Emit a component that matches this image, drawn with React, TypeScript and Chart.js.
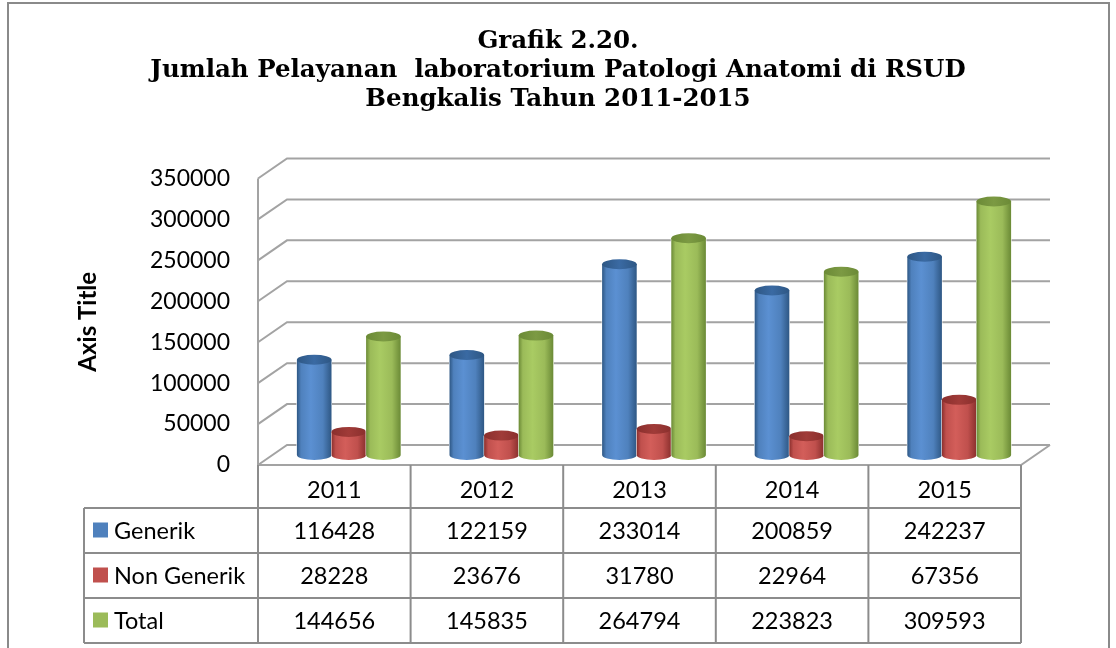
import React, { useEffect, useRef } from "react";
import { Chart, registerables } from "chart.js";

Chart.register(...registerables);

// ---------- data ----------
const years = ["2011", "2012", "2013", "2014", "2015"];
const seriesNames = ["Generik", "Non Generik", "Total"];
const generik = [116428, 122159, 233014, 200859, 242237];
const nonGenerik = [28228, 23676, 31780, 22964, 67356];
const total = [144656, 145835, 264794, 223823, 309593];
const yMax = 350000;
const yStep = 50000;
const titleLines = [
  "Grafik 2.20.",
  "Jumlah Pelayanan  laboratorium Patologi Anatomi di RSUD",
  "Bengkalis Tahun 2011-2015",
];
const axisTitle = "Axis Title";

// ---------- styles ----------
const W = 1116;
const H = 648;
const DX = 14.5; // half depth (x)
const DY = 10; // half depth (y)
const gridColor = "#a3a3a3";
const tableColor = "#8c8c8c";
const font = "Lato";
const bodyColors = ["#4F81BD", "#C0504D", "#9BBB59"];
const darkColors = ["#2E5784", "#8A2F2D", "#6B8A36"];
const lightColors = ["#5B90D2", "#D35E5A", "#A9CB63"];
const topColors = ["#3A6AA3", "#A03B38", "#7C9A43"];

const wallsPlugin = {
  id: "walls3d",
  beforeDatasetsDraw(chart: any) {
    const { ctx, chartArea, scales } = chart;
    const { left, right } = chartArea;
    const y = scales.y;
    ctx.save();
    ctx.strokeStyle = gridColor;
    ctx.lineWidth = 2;
    y.ticks.forEach((t: any) => {
      const ym = y.getPixelForValue(t.value);
      ctx.beginPath();
      ctx.moveTo(left - DX, ym + DY);
      ctx.lineTo(left + DX, ym - DY);
      ctx.lineTo(right + DX, ym - DY);
      ctx.stroke();
    });
    const y0 = y.getPixelForValue(0);
    const yT = y.getPixelForValue(yMax);
    ctx.beginPath();
    ctx.moveTo(left - DX, y0 + DY);
    ctx.lineTo(right - DX, y0 + DY);
    ctx.lineTo(right + DX, y0 - DY);
    ctx.stroke();
    ctx.beginPath();
    ctx.moveTo(left - DX, yT + DY);
    ctx.lineTo(left - DX, y0 + DY);
    ctx.stroke();
    ctx.restore();
  },
};

const cylinderPlugin = {
  id: "cylinders",
  afterDatasetsDraw(chart: any) {
    const { ctx } = chart;
    ctx.save();
    chart.data.datasets.forEach((_ds: any, di: number) => {
      const meta = chart.getDatasetMeta(di);
      meta.data.forEach((bar: any) => {
        const { x, y, base, width } = bar.getProps(["x", "y", "base", "width"], true);
        const l = x - width / 2;
        const r = x + width / 2;
        const rx = width / 2;
        const ry = 5;
        const g = ctx.createLinearGradient(l, 0, r, 0);
        g.addColorStop(0, darkColors[di]);
        g.addColorStop(0.12, bodyColors[di]);
        g.addColorStop(0.4, lightColors[di]);
        g.addColorStop(0.75, bodyColors[di]);
        g.addColorStop(1, darkColors[di]);
        ctx.fillStyle = "#ffffff";
        ctx.fillRect(l - 0.5, y, width + 1, base - y + 0.5);
        ctx.fillStyle = g;
        ctx.beginPath();
        ctx.moveTo(l, y);
        ctx.lineTo(l, base);
        ctx.ellipse(x, base, rx, ry, 0, Math.PI, 0, true);
        ctx.lineTo(r, y);
        ctx.closePath();
        ctx.fill();
        const tg = ctx.createLinearGradient(l, 0, r, 0);
        tg.addColorStop(0, darkColors[di]);
        tg.addColorStop(0.5, topColors[di]);
        tg.addColorStop(1, darkColors[di]);
        ctx.fillStyle = tg;
        ctx.beginPath();
        ctx.ellipse(x, y, rx, ry, 0, 0, Math.PI * 2);
        ctx.fill();
      });
    });
    ctx.restore();
  },
};

const tablePlugin = {
  id: "dataTable",
  afterDraw(chart: any) {
    const { ctx, chartArea, scales } = chart;
    const { left, right } = chartArea;
    const x = scales.x;
    const y = scales.y;
    const values = [generik, nonGenerik, total];
    const top = y.getPixelForValue(0) + DY;
    const headerBottom = top + 43;
    const rowH = 45;
    const tLeft = left - DX;
    const tRight = right - DX;
    const legLeft = 84;
    const colW = (right - left) / years.length;
    const bottom = headerBottom + rowH * values.length;
    ctx.save();
    ctx.strokeStyle = tableColor;
    ctx.lineWidth = 2;
    for (let r = 0; r <= values.length; r++) {
      const yy = headerBottom + r * rowH;
      ctx.beginPath();
      ctx.moveTo(legLeft, yy);
      ctx.lineTo(tRight, yy);
      ctx.stroke();
    }
    for (let c = 0; c <= years.length; c++) {
      const xx = tLeft + c * colW;
      ctx.beginPath();
      ctx.moveTo(xx, top);
      ctx.lineTo(xx, bottom);
      ctx.stroke();
    }
    ctx.beginPath();
    ctx.moveTo(legLeft, headerBottom);
    ctx.lineTo(legLeft, bottom);
    ctx.stroke();

    ctx.fillStyle = "#000";
    ctx.font = `23.5px ${font}`;
    ctx.textAlign = "center";
    ctx.textBaseline = "middle";
    years.forEach((yr, i) => {
      const cx = x.getPixelForValue(i) - DX;
      ctx.fillText(yr, cx, (top + headerBottom) / 2 + 4);
      values.forEach((vals, r) => {
        const cy = headerBottom + r * rowH + rowH / 2 + 1;
        ctx.fillText(String(vals[i]), cx, cy);
      });
    });
    ctx.textAlign = "left";
    seriesNames.forEach((name, r) => {
      const cy = headerBottom + r * rowH + rowH / 2;
      ctx.fillStyle = bodyColors[r];
      ctx.fillRect(93, cy - 8, 15, 15);
      ctx.fillStyle = "#000";
      ctx.fillText(name, 114, cy + 1);
    });
    ctx.restore();
  },
};

const textPlugin = {
  id: "texts",
  afterDraw(chart: any) {
    const { ctx, scales } = chart;
    const y = scales.y;
    ctx.save();
    ctx.strokeStyle = "#8a8a8a";
    ctx.lineWidth = 2;
    ctx.strokeRect(8, 3, 1101, 670);
    ctx.fillStyle = "#000";
    ctx.font = "bold 24.5px 'DejaVu Serif'";
    ctx.textAlign = "center";
    ctx.textBaseline = "middle";
    titleLines.forEach((line, i) => {
      ctx.fillText(line, 558, 42 + i * 29);
    });
    const cy = (y.getPixelForValue(0) + y.getPixelForValue(yMax)) / 2 + DY;
    ctx.translate(88, cy);
    ctx.rotate(-Math.PI / 2);
    ctx.font = `bold 24px ${font}`;
    ctx.fillText(axisTitle, 0, 0);
    ctx.restore();
  },
};

export default function App() {
  const ref = useRef<HTMLCanvasElement>(null);
  useEffect(() => {
    if (!ref.current) return;
    const chart = new Chart(ref.current, {
      type: "bar",
      data: {
        labels: years,
        datasets: [
          { label: seriesNames[0], data: generik, backgroundColor: bodyColors[0] },
          { label: seriesNames[1], data: nonGenerik, backgroundColor: bodyColors[1] },
          { label: seriesNames[2], data: total, backgroundColor: bodyColors[2] },
        ],
      },
      options: {
        responsive: false,
        devicePixelRatio: 1,
        animation: false,
        layout: { padding: { left: 0, right: 80.5, top: 168.5, bottom: 193 } },
        plugins: {
          legend: { display: false },
          title: { display: false },
          tooltip: { enabled: false },
        },
        datasets: { bar: { categoryPercentage: 0.68, barPercentage: 1.0 } },
        scales: {
          x: { display: false },
          y: {
            min: 0,
            max: yMax,
            afterFit: (s: any) => {
              s.width = 272.5;
            },
            grid: { display: false, drawTicks: false },
            border: { display: false },
            ticks: {
              stepSize: yStep,
              padding: 42.5,
              labelOffset: DY,
              color: "#000",
              font: { family: font, size: 23 },
              callback: (v: any) => String(v),
            },
          },
        },
      },
      plugins: [wallsPlugin, cylinderPlugin, tablePlugin, textPlugin],
    });
    return () => chart.destroy();
  }, []);
  return (
    <div style={{ position: "fixed", left: 0, top: 0, width: W, height: H, background: "#fff" }}>
      <canvas ref={ref} width={W} height={H} style={{ display: "block" }} />
    </div>
  );
}
